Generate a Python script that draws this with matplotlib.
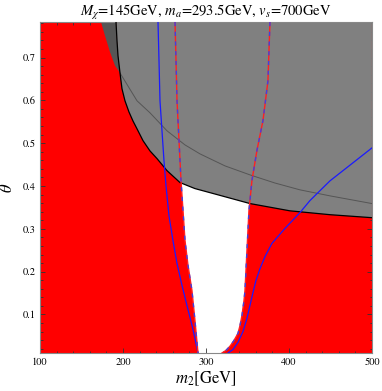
import matplotlib
matplotlib.use("Agg")
import matplotlib.pyplot as plt
from matplotlib.ticker import MultipleLocator

plt.rcParams["mathtext.fontset"] = "stix"
plt.rcParams["font.family"] = ["STIXGeneral", "DejaVu Serif"]

# boundaries, (m2 [GeV], theta)
black_m2 = [191.6, 192.8, 194.0, 196.4, 198.8, 202.4, 207.2, 212.0, 218.1, 224.1,
            232.5, 241.0, 253.0, 268.7, 286.7, 313.3, 353.0, 401.2, 449.4, 500.0]
black_th = [0.783, 0.739, 0.704, 0.664, 0.627, 0.599, 0.573, 0.552, 0.529, 0.506,
            0.482, 0.464, 0.436, 0.408, 0.394, 0.380, 0.359, 0.342, 0.333, 0.326]

redtop_m2 = [173.5, 178.3, 184.3, 190.4, 196.4]
redtop_th = [0.783, 0.751, 0.713, 0.681, 0.664]

thin_m2 = [196.4, 216.9, 232.5, 253.0, 274.7, 292.8, 322.9, 353.0, 383.1, 413.3, 449.4, 500.0]
thin_th = [0.664, 0.599, 0.571, 0.529, 0.496, 0.475, 0.447, 0.426, 0.407, 0.391, 0.377, 0.359]

blue1_m2 = [242.2, 243.4, 244.6, 247.0, 249.4, 251.8, 255.4, 260.2, 265.1, 271.1,
            277.1, 283.1, 286.7, 290.4]
blue1_th = [0.783, 0.692, 0.599, 0.529, 0.459, 0.401, 0.331, 0.273, 0.219, 0.168,
            0.121, 0.075, 0.044, 0.01]

dash1_m2 = [262.7, 263.9, 265.1, 267.5, 269.9, 272.3, 274.7, 278.3, 283.1, 286.7, 290.4]
dash1_th = [0.783, 0.692, 0.599, 0.506, 0.413, 0.343, 0.273, 0.215, 0.156, 0.086, 0.01]

dash2_m2 = [377.1, 374.7, 368.7, 361.4, 355.4, 351.8, 349.4, 347.0, 345.8, 343.4, 341.0,
            338.6, 333.7, 329.0, 324.1, 319.3]
dash2_th = [0.783, 0.646, 0.553, 0.483, 0.413, 0.343, 0.250, 0.156, 0.132, 0.098, 0.074,
            0.056, 0.039, 0.026, 0.016, 0.01]

blue2_m2 = [500.0, 449.4, 425.3, 413.3, 395.2, 379.5, 371.1, 365.1, 360.2, 356.6,
            353.0, 349.4, 344.6, 338.6, 332.5, 326.5]
blue2_th = [0.489, 0.412, 0.366, 0.338, 0.301, 0.266, 0.235, 0.207, 0.179, 0.151,
            0.121, 0.091, 0.060, 0.035, 0.018, 0.01]

xmin, xmax = 100, 500
ymin, ymax = 0.01, 0.783

fig = plt.figure(figsize=(3.82, 3.91), dpi=100)
ax = fig.add_axes([0.1047, 0.0972, 0.869, 0.8465])
ax.set_facecolor("#ff0000")

# white allowed window
ax.fill(dash1_m2 + dash2_m2[::-1], dash1_th + dash2_th[::-1], color="white", lw=0, zorder=1)

# gray excluded region above the black curve
ax.fill(black_m2 + [xmax, black_m2[0]], black_th + [ymax, ymax], color="#808080", lw=0, zorder=2)

# darker overlap strip top left
ax.fill(redtop_m2 + black_m2[3::-1], redtop_th + black_th[3::-1], color="#565656", lw=0, zorder=2)

ax.plot(thin_m2, thin_th, color="#555555", lw=0.7, zorder=3)
ax.plot(black_m2, black_th, color="black", lw=0.9, zorder=4)

ax.plot(blue1_m2, blue1_th, color="#1a1aff", lw=0.9, zorder=5)
ax.plot(blue2_m2, blue2_th, color="#1a1aff", lw=0.9, zorder=5)

for xs, ys in [(dash1_m2, dash1_th), (dash2_m2, dash2_th)]:
    ax.plot(xs, ys, color="#ff2020", lw=1.0, zorder=5)
    ax.plot(xs, ys, color="#4040e0", lw=1.0, dashes=(3, 4), zorder=6)

ax.set_xlim(xmin, xmax)
ax.set_ylim(ymin, ymax)

ax.xaxis.set_major_locator(MultipleLocator(100))
ax.xaxis.set_minor_locator(MultipleLocator(20))
ax.yaxis.set_major_locator(MultipleLocator(0.1))
ax.yaxis.set_minor_locator(MultipleLocator(0.02))
ax.tick_params(which="both", direction="in", top=True, right=True, colors="#333333",
               labelcolor="black", labelsize=7.5, width=0.6)
ax.tick_params(which="major", length=3.5, pad=3)
ax.tick_params(which="minor", length=1.8)
for s in ax.spines.values():
    s.set_color("#888888")
    s.set_linewidth(0.8)

ax.set_xlabel(r"$m_2$[GeV]", fontsize=12, labelpad=2)
ax.set_ylabel(r"$\theta$", fontsize=12)
ax.yaxis.set_label_coords(-0.072, 0.5)
ax.set_title(r"$M_\chi$=145GeV, $m_a$=293.5GeV, $v_s$=700GeV", fontsize=10.5, pad=4)

fig.savefig("out.png", dpi=100)
